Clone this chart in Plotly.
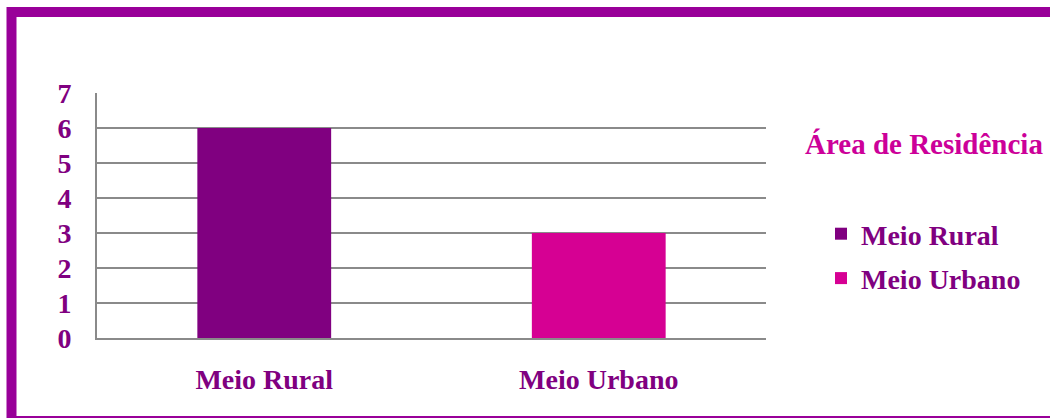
import plotly.graph_objects as go

categories = ["Meio Rural", "Meio Urbano"]
values = [6, 3]
colors = ["#800080", "#D60093"]
y_ticks = [0, 1, 2, 3, 4, 5, 6, 7]
legend_title = "Área de Residência"

W, H = 1050, 418
L, R, T, B = 97, W - 766, 93, H - 338
pw, ph = W - L - R, H - T - B

fig = go.Figure()
for i, (cat, val) in enumerate(zip(categories, values)):
    fig.add_trace(go.Bar(x=[cat], y=[val], marker=dict(color=colors[i], line=dict(width=0)),
                         width=0.4, showlegend=False, name=cat))
for i, cat in enumerate(categories):
    fig.add_trace(go.Scatter(x=[None], y=[None], mode="markers", name=cat,
                             legendgroup=f"g{i}",
                             marker=dict(symbol="square", size=16, color=colors[i])))

def px(x):
    return (x - L) / pw

def py(y):
    return (H - B - y) / ph

fig.add_shape(type="rect", xref="paper", yref="paper",
              x0=px(11.5), x1=px(1065), y0=py(421), y1=py(12),
              line=dict(color="#990099", width=10), layer="above")

fig.add_annotation(text=legend_title, xref="paper", yref="paper",
                   x=px(803), y=py(144), xanchor="left", yanchor="middle",
                   showarrow=False,
                   font=dict(family="Liberation Serif", size=29, color="#CC0099", weight="bold"))

font = dict(family="Liberation Serif", size=28, color="#800080", weight="bold")
fig.update_layout(
    width=W, height=H,
    margin=dict(l=L, r=R, t=T, b=B, pad=0, autoexpand=False),
    paper_bgcolor="white", plot_bgcolor="white",
    barmode="overlay",
    font=font,
    xaxis=dict(type="category", categoryarray=categories, range=[-0.5, 1.5],
               showgrid=False, showline=True, linecolor="#8A8A8A", linewidth=2,
               ticks="", tickfont=font, ticklabelstandoff=15, fixedrange=True,
               automargin=False),
    yaxis=dict(range=[0, 7], tickvals=y_ticks, showgrid=True, gridcolor="#8A8A8A",
               gridwidth=1.5, showline=True, linecolor="#8A8A8A", linewidth=2,
               zeroline=False, ticks="", tickfont=font, ticklabelstandoff=18,
               fixedrange=True, automargin=False),
    legend=dict(font=font, x=px(821), xanchor="left", y=py(209), yanchor="top",
                tracegroupgap=5, itemsizing="constant", bgcolor="rgba(0,0,0,0)"),
)

fig.write_html("out.html", config={"displayModeBar": False},
               post_script="document.body.style.margin='0';document.body.style.overflow='hidden';")
